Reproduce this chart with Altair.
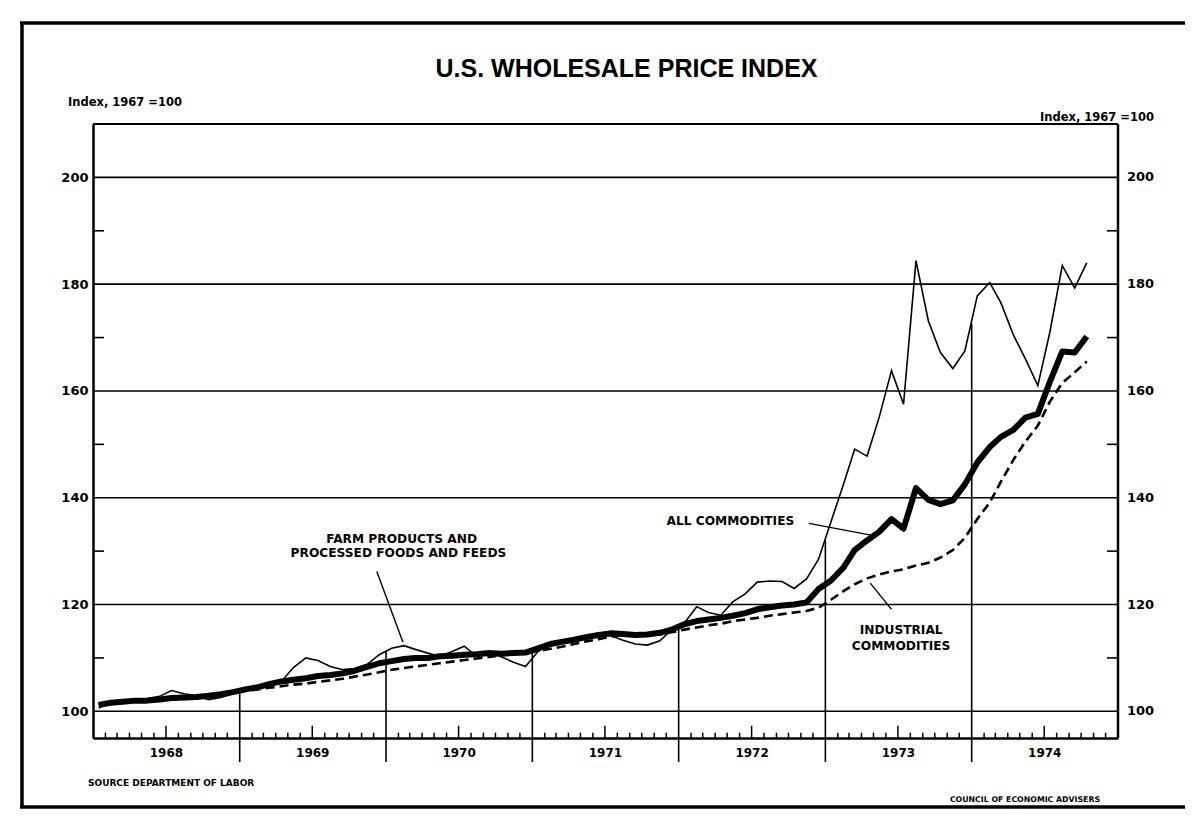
import altair as alt
import pandas as pd

# ---------------- data ----------------
start_year = 1968
n_months = 82  # Jan 1968 .. Oct 1974

all_commodities = [
    101.2, 101.6, 101.8, 102.0, 102.0, 102.2, 102.5, 102.6, 102.7, 102.9, 103.2, 103.6,
    104.1, 104.5, 105.1, 105.6, 105.9, 106.2, 106.6, 106.8, 107.1, 107.6, 108.3, 109.0,
    109.4, 109.8, 110.0, 110.0, 110.3, 110.4, 110.6, 110.7, 110.9, 110.8, 110.9, 111.0,
    111.8, 112.6, 113.0, 113.4, 113.9, 114.3, 114.6, 114.5, 114.3, 114.4, 114.7, 115.3,
    116.3, 116.9, 117.2, 117.5, 117.9, 118.4, 119.1, 119.5, 119.8, 120.0, 120.4, 122.9,
    124.5, 126.9, 130.2, 132.0, 133.6, 136.0, 134.2, 141.8, 139.6, 138.8, 139.5, 142.5,
    146.6, 149.5, 151.4, 152.7, 155.0, 155.7, 161.7, 167.4, 167.2, 170.2,
]

farm_products = [
    100.6, 101.6, 102.0, 102.2, 102.4, 102.8, 103.9, 103.3, 102.9, 102.2, 102.6, 103.3,
    104.0, 104.3, 104.8, 105.6, 108.2, 110.0, 109.5, 108.4, 107.8, 108.0, 108.8, 110.6,
    111.8, 112.3, 111.6, 110.9, 110.3, 111.2, 112.2, 110.3, 111.1, 110.2, 109.2, 108.4,
    111.2, 112.5, 113.0, 113.3, 113.8, 114.0, 114.2, 113.3, 112.6, 112.4, 113.2, 115.3,
    116.5, 119.6, 118.5, 118.0, 120.5, 122.0, 124.2, 124.4, 124.3, 123.0, 124.8, 128.5,
    135.5, 142.5, 149.1, 147.8, 155.0, 163.8, 157.5, 184.4, 173.1, 167.2, 164.2, 167.5,
    177.8, 180.3, 176.5, 170.5, 166.0, 161.0, 171.0, 183.5, 179.3, 184.0,
]

industrial = [
    101.3, 101.6, 101.8, 101.9, 102.0, 102.1, 102.2, 102.3, 102.5, 102.7, 103.0, 103.4,
    103.8, 104.1, 104.4, 104.7, 105.0, 105.2, 105.5, 105.8, 106.1, 106.5, 106.9, 107.3,
    107.8, 108.1, 108.4, 108.7, 109.0, 109.3, 109.6, 109.9, 110.2, 110.5, 110.7, 111.0,
    111.3, 111.7, 112.1, 112.6, 113.1, 113.5, 114.0, 114.3, 114.3, 114.3, 114.4, 114.8,
    115.3, 115.7, 116.1, 116.4, 116.9, 117.2, 117.5, 117.9, 118.2, 118.5, 118.8, 119.4,
    120.9, 122.5, 123.8, 124.9, 125.6, 126.2, 126.6, 127.3, 127.8, 128.8, 130.2, 132.5,
    136.0, 139.1, 143.0, 147.1, 150.5, 153.5, 158.0, 161.5, 163.5, 165.5,
]

years = [1968, 1969, 1970, 1971, 1972, 1973, 1974]
grid_values = [100, 120, 140, 160, 180, 200]
minor_values = [110, 130, 150, 170, 190]
frame_top_value = 210

# annotation texts (month offset from Jan 1968, index value)
ann_text = ["FARM PRODUCTS AND", "PROCESSED FOODS AND FEEDS",
            "ALL COMMODITIES", "INDUSTRIAL", "COMMODITIES"]
ann_month = [25.3, 25.0, 52.3, 66.3, 66.3]
ann_value = [132.3, 129.6, 135.6, 115.3, 112.3]

# leader lines: (id, month offset, value)
lead_id = ["farm", "farm", "all", "all", "ind", "ind"]
lead_month = [23.3, 25.4, 58.7, 64.0, 63.8, 65.5]
lead_value = [126.2, 113.0, 135.2, 132.9, 124.0, 119.1]

# ---------------- derived tables ----------------
def month_date(m):
    """month offset (float) from 1 Jan 1968 -> ISO date string"""
    y = start_year + int(m // 12)
    mo = int(m % 12)
    frac = m - int(m)
    day = 1 + int(round(frac * 28))
    return f"{y}-{mo + 1:02d}-{day:02d}"

dates = [f"{start_year + i // 12}-{i % 12 + 1:02d}-15" for i in range(n_months)]

lines_df = pd.concat([
    pd.DataFrame({"date": dates, "value": farm_products, "series": "farm"}),
    pd.DataFrame({"date": dates, "value": industrial, "series": "industrial"}),
    pd.DataFrame({"date": dates, "value": all_commodities, "series": "all"}),
])

# vertical year separators reach up to the highest curve at the boundary
sep_rows = []
for y in years[1:]:
    i = (y - start_year) * 12
    top = max((s[i - 1] + s[i]) / 2 for s in (all_commodities, farm_products, industrial))
    sep_rows.append({"date": f"{y}-01-01", "bottom": 90.5, "top": top})
sep_df = pd.DataFrame(sep_rows)

tick_rows = []
for y in years:
    for mo in range(2, 13):
        tick_rows.append({"date": f"{y}-{mo:02d}-01", "b": 95.0, "h": 97.3 if mo == 7 else 96.0})
tick_df = pd.DataFrame(tick_rows)

grid_df = pd.DataFrame({"v": grid_values})
minor_df = pd.DataFrame({"v": minor_values})
top_df = pd.DataFrame({"v": [frame_top_value]})
ann_df = pd.DataFrame({"text": ann_text, "date": [month_date(m) for m in ann_month], "value": ann_value})
lead_df = pd.DataFrame({"id": lead_id, "date": [month_date(m) for m in lead_month], "value": lead_value,
                        "order": list(range(len(lead_id)))})

# ---------------- chart ----------------
W, H = 1025, 614
FONT = "DejaVu Sans"
TITLE_FONT = "Liberation Sans"

x_scale = alt.Scale(domain=[alt.DateTime(year=1968, month=1, date=1),
                            alt.DateTime(year=1975, month=1, date=1)])
y_scale = alt.Scale(domain=[95, 210], nice=False, zero=False)

x_axis = alt.Axis(values=[alt.DateTime(year=y, month=7, date=1) for y in years], format="%Y",
                  tickSize=0, labelPadding=9, grid=False, title=None, domainColor="black",
                  domainWidth=2.5, labelFont=FONT, labelFontSize=12, labelFontWeight="bold",
                  labelColor="black")
y_axis = alt.Axis(values=grid_values, orient="left", tickSize=0, labelPadding=5, grid=False,
                  title=None, domainColor="black", domainWidth=2.5, labelFont=FONT,
                  labelFontSize=13, labelFontWeight="bold", labelColor="black")

X = alt.X("date:T", scale=x_scale, axis=x_axis)
Y = alt.Y("value:Q", scale=y_scale, axis=y_axis)

grid = alt.Chart(grid_df).mark_rule(color="black", strokeWidth=1.6).encode(
    y=alt.Y("v:Q", scale=y_scale, axis=y_axis))

top_line = alt.Chart(top_df).mark_rule(color="black", strokeWidth=2.2).encode(
    y=alt.Y("v:Q", scale=y_scale))
right_line = alt.Chart(top_df).mark_rule(color="black", strokeWidth=2.5).encode(
    x=alt.value(W), y=alt.value(0), y2=alt.value(H))

right_labels = alt.Chart(grid_df).mark_text(
    font=FONT, fontSize=13, fontWeight="bold", color="black", align="left", baseline="middle",
    clip=False).encode(y=alt.Y("v:Q", scale=y_scale), x=alt.value(W + 9), text="v:Q")

minor_l = alt.Chart(minor_df).mark_rule(color="black", strokeWidth=1.6).encode(
    y=alt.Y("v:Q", scale=y_scale), x=alt.value(0), x2=alt.value(11))
minor_r = alt.Chart(minor_df).mark_rule(color="black", strokeWidth=1.6).encode(
    y=alt.Y("v:Q", scale=y_scale), x=alt.value(W - 11), x2=alt.value(W))

seps = alt.Chart(sep_df).mark_rule(color="black", strokeWidth=1.6, clip=False).encode(
    x=X, y=alt.Y("bottom:Q", scale=y_scale), y2="top:Q")

ticks = alt.Chart(tick_df).mark_rule(color="black", strokeWidth=1.5).encode(
    x=X, y=alt.Y("b:Q", scale=y_scale), y2="h:Q")

base_line = alt.Chart(lines_df)
farm_line = base_line.transform_filter(alt.datum.series == "farm").mark_line(
    color="black", strokeWidth=1.6).encode(x=X, y=Y)
ind_line = base_line.transform_filter(alt.datum.series == "industrial").mark_line(
    color="black", strokeWidth=2.6, strokeDash=[9, 5]).encode(x=X, y=Y)
all_line = base_line.transform_filter(alt.datum.series == "all").mark_line(
    color="black", strokeWidth=6, strokeJoin="round").encode(x=X, y=Y)

ann = alt.Chart(ann_df).mark_text(font=FONT, fontSize=12.2, fontWeight="bold", color="black",
                                  align="center", baseline="middle").encode(
    x=X, y=Y, text="text:N")

leaders = alt.Chart(lead_df).mark_line(color="black", strokeWidth=1.4).encode(
    x=X, y=Y, detail="id:N", order="order:Q")

def label(text, x, y, size, align="left", weight="bold", font=FONT):
    return alt.Chart(pd.DataFrame({"t": [text]})).mark_text(
        font=font, fontSize=size, fontWeight=weight, color="black", align=align,
        baseline="middle", clip=False).encode(x=alt.value(x), y=alt.value(y), text="t:N")

title = label("U.S. WHOLESALE PRICE INDEX", W / 2 + 21, -55, 25, align="center", font=TITLE_FONT)
ytitle_l = label("Index, 1967 =100", -25, -21, 11.5)
ytitle_r = label("Index, 1967 =100", W + 36, -6, 11.5, align="right")
src = label("SOURCE  DEPARTMENT OF LABOR", -5, 659, 9)
cea = label("COUNCIL OF ECONOMIC ADVISERS", 1007, 676, 7.8, align="right")

def frame_rule(x1, x2, y1, y2):
    return alt.Chart(top_df).mark_rule(color="black", strokeWidth=3.5, clip=False).encode(
        x=alt.value(x1), x2=alt.value(x2), y=alt.value(y1), y2=alt.value(y2))

frame_top = frame_rule(-73, 1092, -101, -101)
frame_left = frame_rule(-71, -71, -102, 683)
frame_bottom = frame_rule(-73, 1092, 683, 683)

chart = alt.layer(
    grid, top_line, right_line, right_labels, minor_l, minor_r, seps, ticks,
    farm_line, ind_line, all_line, leaders, ann,
    title, ytitle_l, ytitle_r, src, cea, frame_top, frame_left, frame_bottom,
).properties(
    width=W, height=H,
    autosize=alt.AutoSizeParams(type="none"),
    padding={"left": 85, "top": 116, "right": 67, "bottom": 73},
).configure_view(stroke=None).configure(background="white")

chart.save("out.html", embed_options={"renderer": "svg", "actions": False})
